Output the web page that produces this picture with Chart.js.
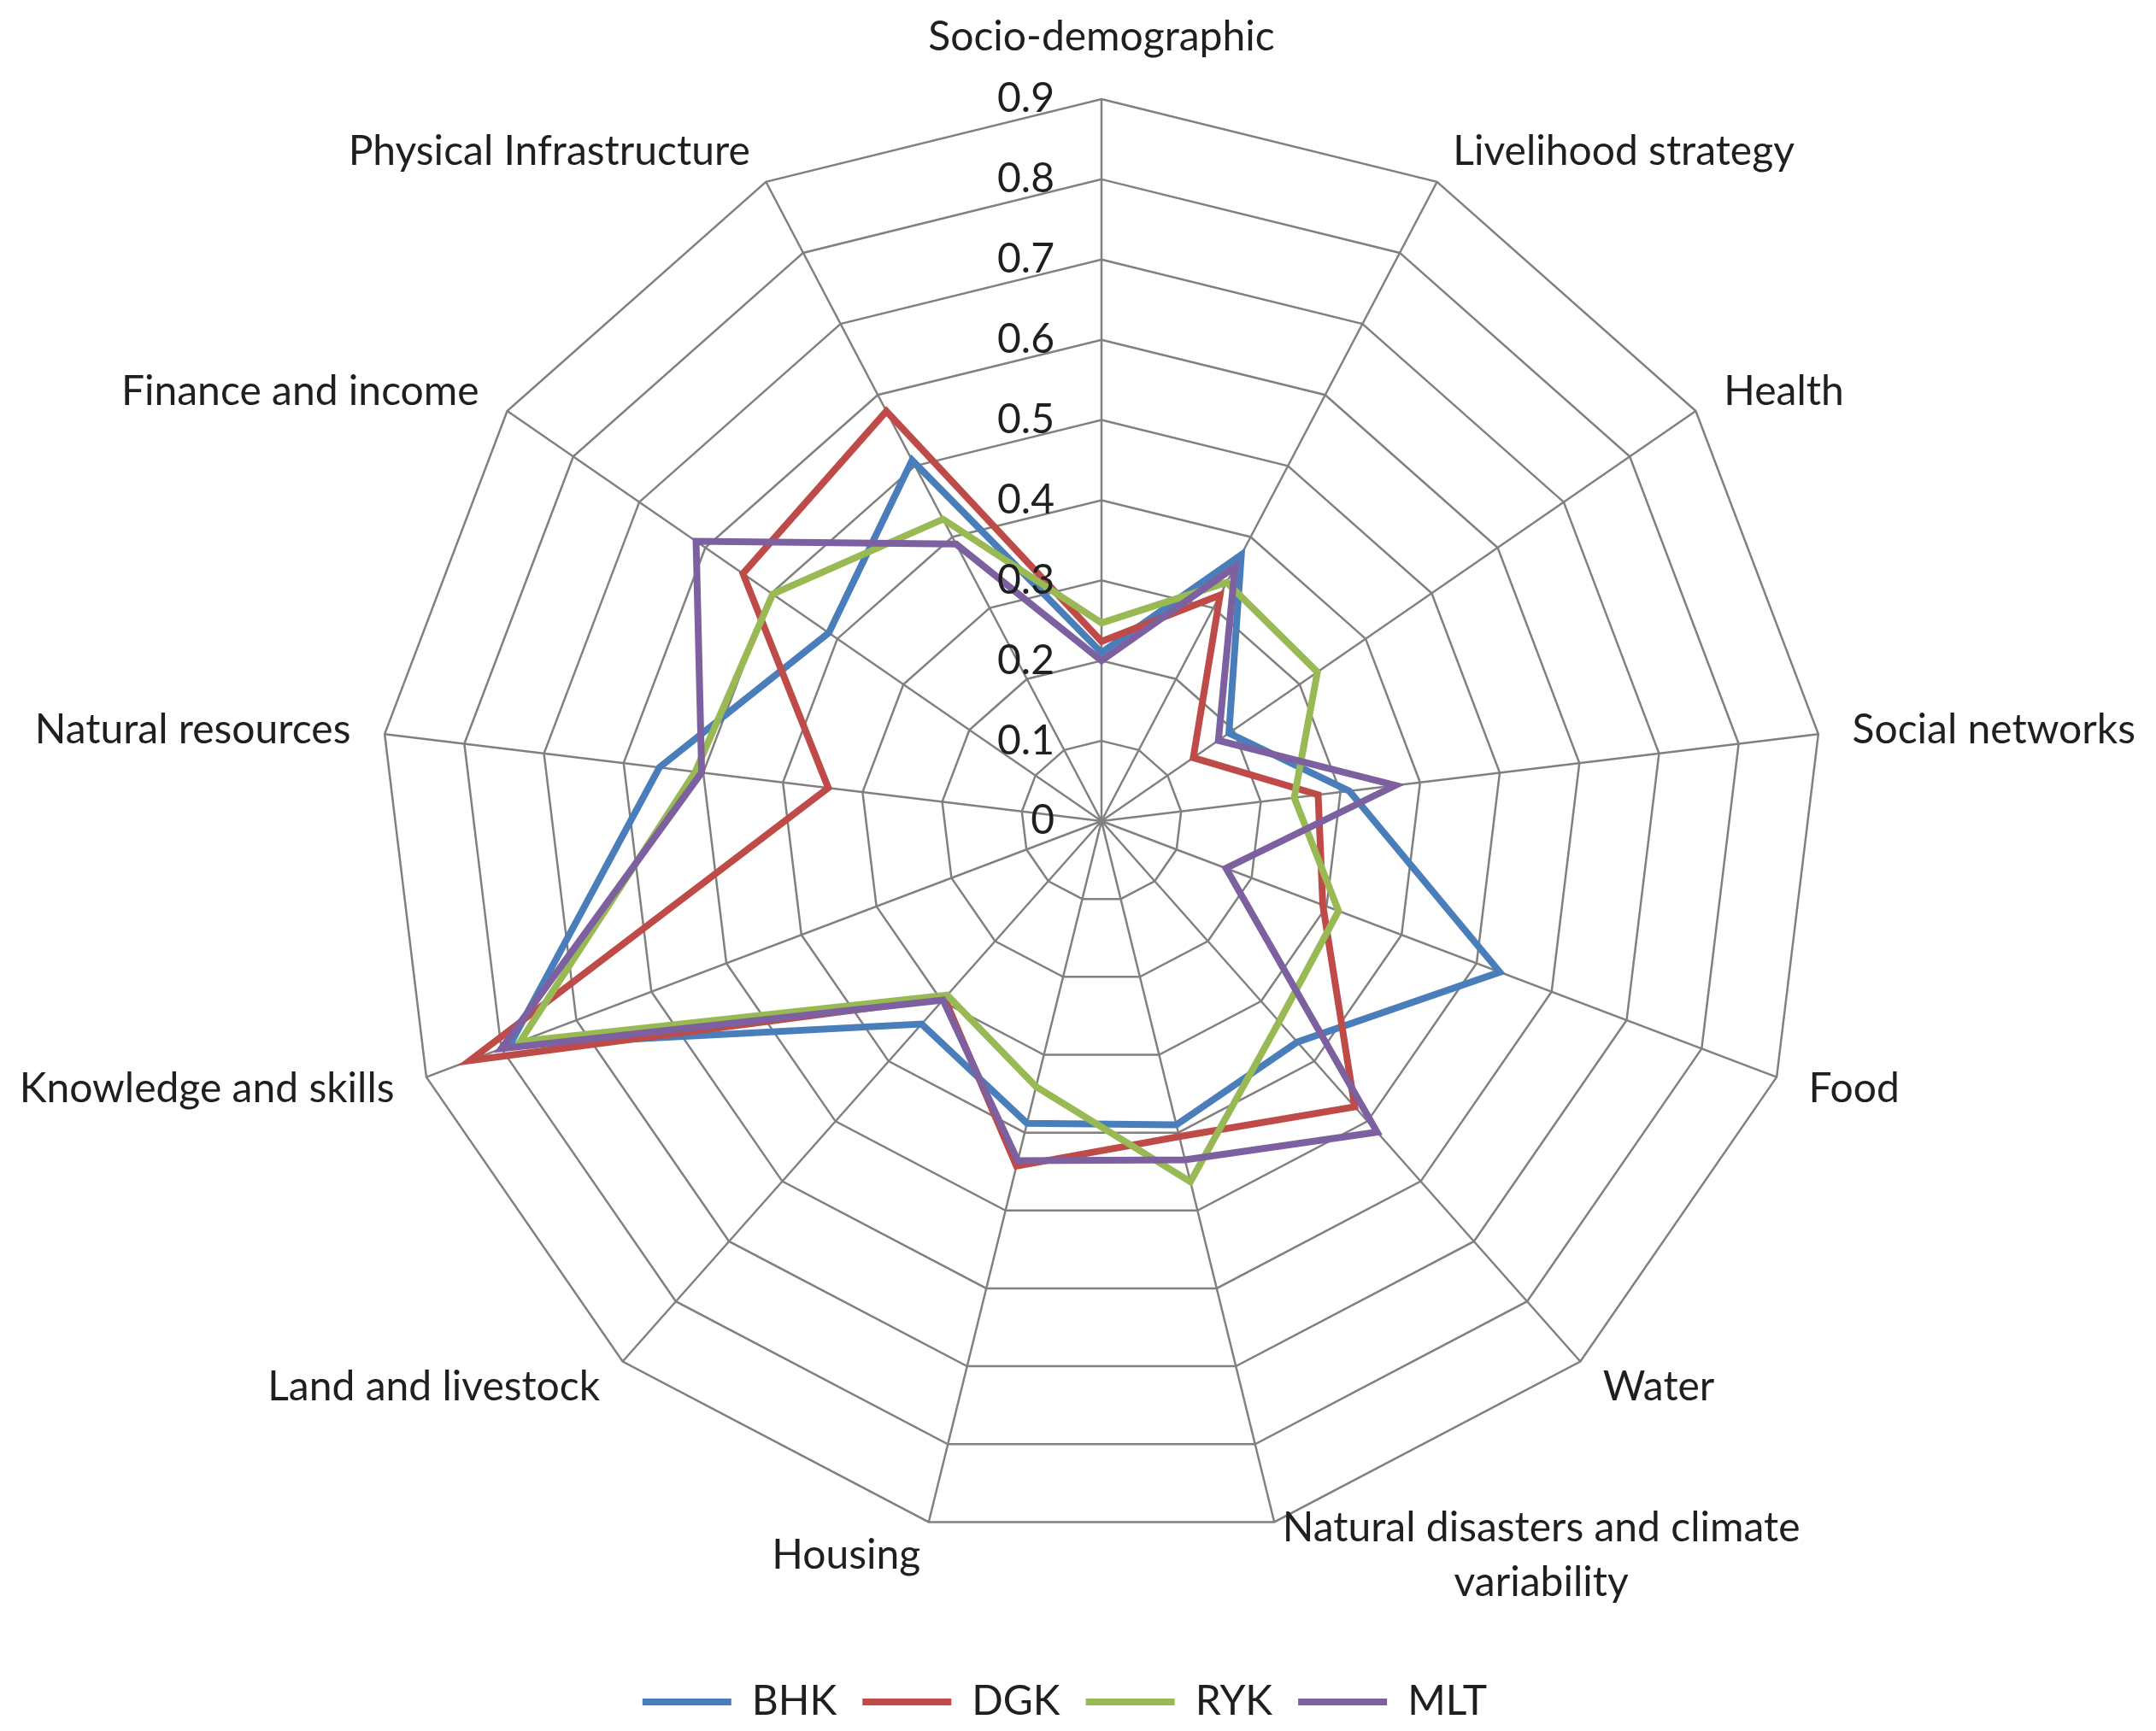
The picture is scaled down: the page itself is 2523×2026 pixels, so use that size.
<!DOCTYPE html>
<html>
<head>
<meta charset="utf-8">
<title>Radar chart</title>
<script src="https://cdn.jsdelivr.net/npm/chart.js"></script>
<style>
  html, body { margin: 0; padding: 0; background: #ffffff; }
  #chart-area { display: block; }
</style>
</head>
<body>
<canvas id="chart-area" width="2523" height="2026"></canvas>
<script>
const categories = [
  'Socio-demographic',
  'Livelihood strategy',
  'Health',
  'Social networks',
  'Food',
  'Water',
  ['Natural disasters and climate', 'variability'],
  'Housing',
  'Land and livestock',
  'Knowledge and skills',
  'Natural resources',
  'Finance and income',
  'Physical Infrastructure',
];
const seriesNames = ['BHK', 'DGK', 'RYK', 'MLT'];
const bhk = [0.21, 0.375, 0.193, 0.311, 0.531, 0.368, 0.39, 0.388, 0.338, 0.789, 0.555, 0.413, 0.508];
const dgk = [0.224, 0.318, 0.139, 0.272, 0.295, 0.476, 0.405, 0.443, 0.295, 0.842, 0.343, 0.543, 0.577];
const ryk = [0.247, 0.336, 0.327, 0.242, 0.316, 0.334, 0.463, 0.341, 0.29, 0.775, 0.51, 0.498, 0.425];
const mlt = [0.2, 0.358, 0.177, 0.369, 0.166, 0.518, 0.435, 0.436, 0.298, 0.8, 0.502, 0.614, 0.39];
const tickValues = [0, 0.1, 0.2, 0.3, 0.4, 0.5, 0.6, 0.7, 0.8, 0.9];
const tickLabels = ['0', '0.1', '0.2', '0.3', '0.4', '0.5', '0.6', '0.7', '0.8', '0.9'];

const colors = ['#4A7EBB', '#BE4B48', '#98B954', '#7D60A0'];
const FONT = 'Lato';
const TEXT = '#1f1f1f';
const GRID = '#808080';

// excel-like tick labels (left of the axis) and category labels
const labelsPlugin = {
  id: 'excelLabels',
  afterDraw(chart) {
    const scale = chart.scales.r;
    const ctx = chart.ctx;
    ctx.save();
    ctx.fillStyle = TEXT;
    ctx.font = `48px ${FONT}`;

    ctx.textAlign = 'right';
    ctx.textBaseline = 'middle';
    tickValues.forEach((v, i) => {
      const d = scale.getDistanceFromCenterForValue(v);
      ctx.fillText(tickLabels[i], scale.xCenter - 55, scale.yCenter - d);
    });

    const lineH = 64;
    categories.forEach((label, i) => {
      const lines = Array.isArray(label) ? label : [label];
      const p = scale.getPointPosition(i, scale.drawingArea + 40);
      const s = Math.sin(p.angle + Math.PI / 2);
      const c = -Math.cos(p.angle + Math.PI / 2);
      const w = Math.max(...lines.map(l => ctx.measureText(l).width));
      let cx;
      if (s > 0.1) cx = p.x + w / 2;
      else if (s < -0.1) cx = p.x - w / 2;
      else cx = p.x;
      const h = lines.length * lineH;
      let top;
      if (Math.abs(s) <= 0.1 && c < 0) top = p.y - h;
      else top = p.y - h / 2;
      ctx.textAlign = 'center';
      lines.forEach((l, k) => {
        ctx.fillText(l, cx, top + lineH * (k + 0.5));
      });
    });
    ctx.restore();
  },
};

// move the legend to where excel puts it
const legendShift = {
  id: 'legendShift',
  afterLayout(chart) {
    const lg = chart.legend;
    lg.left -= 43;
    lg.right -= 43;
    lg.top += 131;
    lg.bottom += 131;
  },
};

const datasets = [bhk, dgk, ryk, mlt].map((values, i) => ({
  label: seriesNames[i],
  data: values,
  borderColor: colors[i],
  backgroundColor: colors[i],
  borderWidth: 8,
  borderCapStyle: 'round',
  fill: false,
  pointRadius: 0,
  pointHoverRadius: 0,
  tension: 0,
  order: 4 - i,
}));

const config = {
  type: 'radar',
  data: {
    labels: categories,
    datasets,
  },
  options: {
    responsive: false,
    devicePixelRatio: 1,
    animation: false,
    layout: {
      padding: { top: 115, left: 444, right: 389, bottom: 131 },
    },
    scales: {
      r: {
        min: 0,
        max: 0.9,
        ticks: { display: false, stepSize: 0.1 },
        pointLabels: { display: false },
        grid: { color: GRID, lineWidth: 2.5 },
        angleLines: { color: GRID, lineWidth: 2.5 },
      },
    },
    plugins: {
      tooltip: { enabled: false },
      legend: {
        position: 'bottom',
        labels: {
          usePointStyle: true,
          pointStyle: 'line',
          pointStyleWidth: 104,
          padding: 30,
          color: TEXT,
          font: { family: FONT, size: 48 },
          sort: (a, b) => a.datasetIndex - b.datasetIndex,
        },
      },
    },
  },
  plugins: [labelsPlugin, legendShift],
};

window.radarChart = new Chart(document.getElementById('chart-area').getContext('2d'), config);
</script>
</body>
</html>
